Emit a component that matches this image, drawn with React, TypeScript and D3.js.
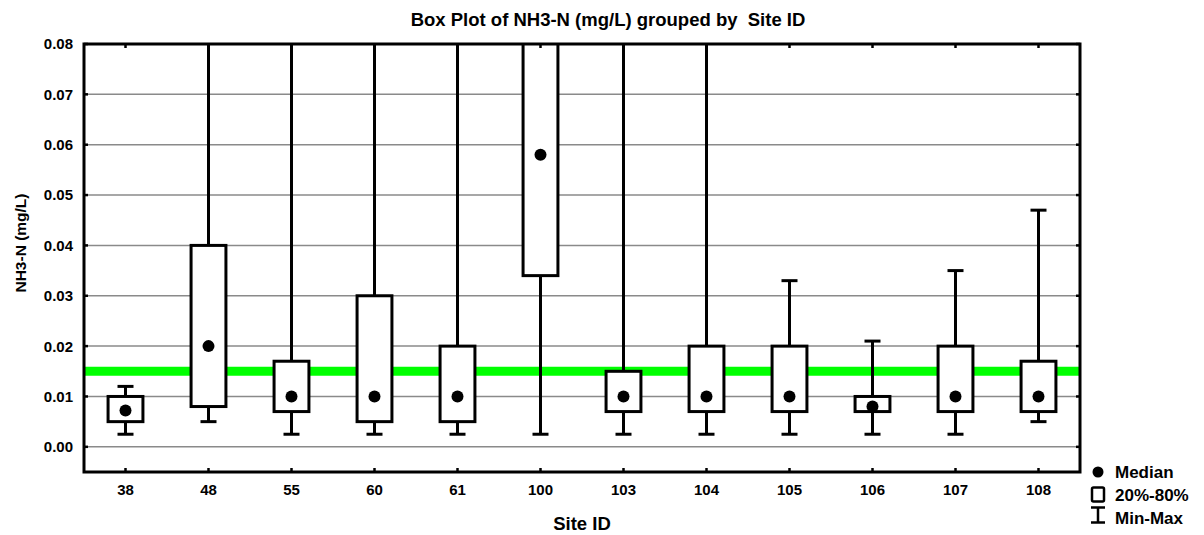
import React from "react";
import * as d3 from "d3";

// Site IDs along the x axis
const sites = ["38", "48", "55", "60", "61", "100", "103", "104", "105", "106", "107", "108"];
// Summary statistics per site (mg/L); values above 0.08 run off the top of the plot
const minVals = [0.0025, 0.005, 0.0025, 0.0025, 0.0025, 0.0025, 0.0025, 0.0025, 0.0025, 0.0025, 0.0025, 0.005];
const p20Vals = [0.005, 0.008, 0.007, 0.005, 0.005, 0.034, 0.007, 0.007, 0.007, 0.007, 0.007, 0.007];
const medianVals = [0.0072, 0.02, 0.01, 0.01, 0.01, 0.058, 0.01, 0.01, 0.01, 0.008, 0.01, 0.01];
const p80Vals = [0.01, 0.04, 0.017, 0.03, 0.02, 0.095, 0.015, 0.02, 0.02, 0.01, 0.02, 0.017];
const maxVals = [0.012, 0.15, 0.12, 0.14, 0.13, 0.2, 0.11, 0.12, 0.033, 0.021, 0.035, 0.047];
// Y axis ticks and the guideline level
const yTicks = [0, 0.01, 0.02, 0.03, 0.04, 0.05, 0.06, 0.07, 0.08];
const guideline = 0.015;

const W = 1204;
const H = 535;
const L = 84, R = 1080, T = 44, B = 472;
const FONT = "'Liberation Sans', Arial, sans-serif";

export default function App() {
  const x = d3.scaleBand<string>().domain(sites).range([L, R]).padding(0);
  const y = d3.scaleLinear().domain([-0.005, 0.08]).range([B, T]);
  const bw = x.bandwidth();
  const boxW = bw * 0.42;
  const capW = 16;
  const cx = (s: string) => (x(s) as number) + bw / 2;

  return (
    <svg width={W} height={H} style={{ position: "absolute", left: 0, top: 0, background: "#fff" }}>
      <defs>
        <clipPath id="plotClip">
          <rect x={L} y={T} width={R - L} height={B - T} />
        </clipPath>
      </defs>

      {/* title */}
      <text x={608} y={26} textAnchor="middle" fontFamily={FONT} fontWeight="bold" fontSize={18.5} style={{ whiteSpace: "pre" }}>
        {"Box Plot of NH3-N (mg/L) grouped by  Site ID"}
      </text>

      {/* horizontal grid */}
      {yTicks.map((t) => (
        <line key={"g" + t} x1={L} x2={R} y1={y(t)} y2={y(t)} stroke="#8a8a8a" strokeWidth={1.5} />
      ))}

      {/* guideline */}
      <line x1={L} x2={R} y1={y(guideline)} y2={y(guideline)} stroke="#00ff00" strokeWidth={9} />

      <g clipPath="url(#plotClip)">
        {sites.map((s, i) => {
          const c = cx(s);
          return (
            <g key={s}>
              <line x1={c} x2={c} y1={y(minVals[i])} y2={y(maxVals[i])} stroke="#000" strokeWidth={3} />
              <line x1={c - capW / 2} x2={c + capW / 2} y1={y(minVals[i])} y2={y(minVals[i])} stroke="#000" strokeWidth={3} />
              <line x1={c - capW / 2} x2={c + capW / 2} y1={y(maxVals[i])} y2={y(maxVals[i])} stroke="#000" strokeWidth={3} />
              <rect
                x={c - boxW / 2}
                y={y(p80Vals[i])}
                width={boxW}
                height={y(p20Vals[i]) - y(p80Vals[i])}
                fill="#fff"
                stroke="#000"
                strokeWidth={3}
              />
              <circle cx={c} cy={y(medianVals[i])} r={6} fill="#000" />
            </g>
          );
        })}
      </g>

      {/* frame */}
      <rect x={L} y={T} width={R - L} height={B - T} fill="none" stroke="#000" strokeWidth={3} />

      {/* inward ticks */}
      {yTicks.map((t) => (
        <g key={"t" + t}>
          <line x1={L} x2={L + 4} y1={y(t)} y2={y(t)} stroke="#000" strokeWidth={2.5} />
          <line x1={R - 4} x2={R} y1={y(t)} y2={y(t)} stroke="#000" strokeWidth={2.5} />
          <text x={73} y={y(t)} dy="0.36em" textAnchor="end" fontFamily={FONT} fontWeight="bold" fontSize={15}>
            {t.toFixed(2)}
          </text>
        </g>
      ))}
      {sites.map((s) => (
        <g key={"x" + s}>
          <line x1={cx(s)} x2={cx(s)} y1={B - 4} y2={B} stroke="#000" strokeWidth={2.5} />
          <line x1={cx(s)} x2={cx(s)} y1={T} y2={T + 4} stroke="#000" strokeWidth={2.5} />
          <text x={cx(s)} y={495} textAnchor="middle" fontFamily={FONT} fontWeight="bold" fontSize={15}>
            {s}
          </text>
        </g>
      ))}

      {/* axis titles */}
      <text x={(L + R) / 2} y={530} textAnchor="middle" fontFamily={FONT} fontWeight="bold" fontSize={18.5}>
        Site ID
      </text>
      <text transform={`translate(26,243) rotate(-90)`} textAnchor="middle" fontFamily={FONT} fontWeight="bold" fontSize={15.5}>
        NH3-N (mg/L)
      </text>

      {/* legend */}
      <circle cx={1098} cy={472} r={5.5} fill="#000" />
      <text x={1115} y={478} fontFamily={FONT} fontWeight="bold" fontSize={17}>Median</text>
      <rect x={1092} y={487.5} width={12} height={14} rx={1.5} fill="#fff" stroke="#000" strokeWidth={2.5} />
      <text x={1115} y={501} fontFamily={FONT} fontWeight="bold" fontSize={17}>20%-80%</text>
      <line x1={1098} x2={1098} y1={507} y2={523} stroke="#000" strokeWidth={2.5} />
      <line x1={1091} x2={1105} y1={507.5} y2={507.5} stroke="#000" strokeWidth={2.5} />
      <line x1={1091} x2={1105} y1={522.5} y2={522.5} stroke="#000" strokeWidth={2.5} />
      <text x={1115} y={524} fontFamily={FONT} fontWeight="bold" fontSize={17}>Min-Max</text>
    </svg>
  );
}
